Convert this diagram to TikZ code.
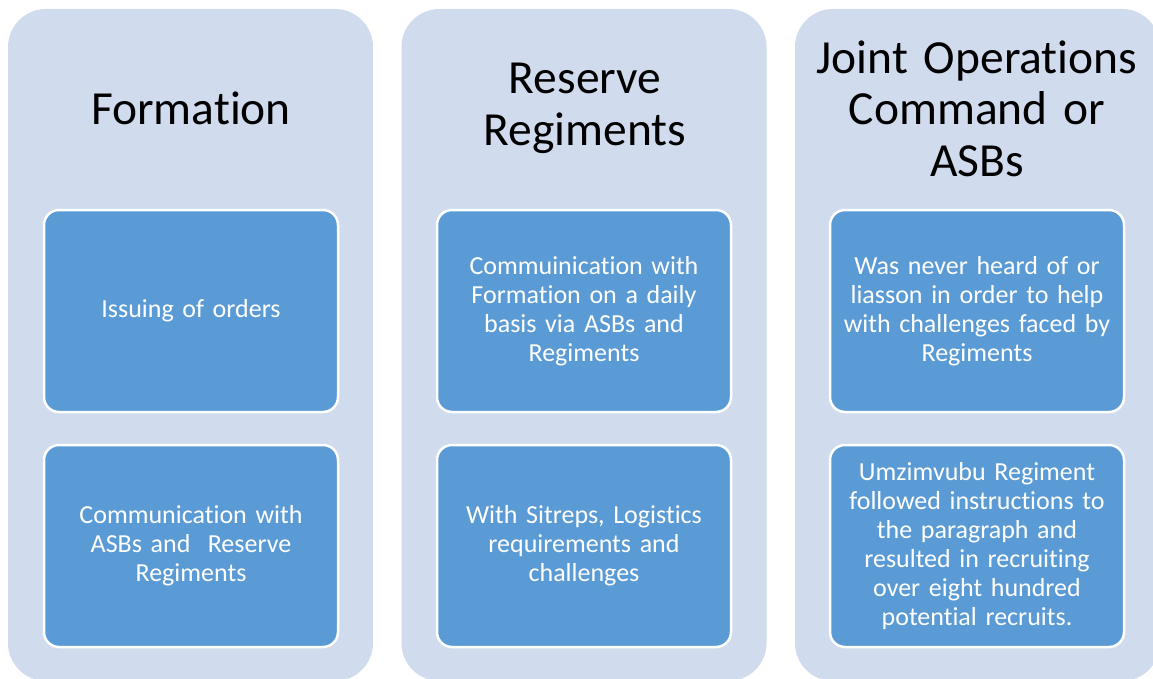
\documentclass[tikz,border=0pt]{standalone}
\usepackage{fontspec}
\setmainfont{Carlito}[Ligatures=CommonOff]
\definecolor{outerfill}{HTML}{D0DCEE}
\definecolor{innerfill}{HTML}{5B9BD5}
\begin{document}
\begin{tikzpicture}[x=1pt,y=-1pt,
  colbox/.style={fill=outerfill,draw=none,rounded corners=38pt,minimum width=365pt,minimum height=672pt,inner sep=0pt},
  itembox/.style={fill=innerfill,draw=white,line width=2.5pt,rounded corners=15pt,minimum width=294pt,minimum height=202pt,inner sep=0pt,text width=288pt,align=center,text=white,font=\fontsize{26}{29}\selectfont},
  title/.style={text=black,align=center,text width=362pt,font=\fontsize{47.5}{51.5}\selectfont,inner sep=0pt}]
\useasboundingbox (0,0) rectangle (1153,679);
\node[colbox] (c1) at (190.5,345) {};
\node[colbox] (c2) at (584,345) {};
\node[colbox] (c3) at (977.5,345) {};
\node[title] (t1) at (191,108.5) {Formation};
\node[title] (t2) at (585,108.5) {Reserve\\Regiments};
\node[title] (t3) at (977,108.5) {Joint Operations\\Command or\\ASBs};
\node[itembox] (b11) at (191,311) {Issuing of orders};
\node[itembox] (b12) at (191,546) {Communication with\\ASBs and\ \ Reserve\\Regiments};
\node[itembox] (b21) at (584,311) {Commuinication with\\Formation on a daily\\basis via ASBs and\\Regiments};
\node[itembox] (b22) at (584,546) {With Sitreps, Logistics\\requirements and\\challenges};
\node[itembox] (b31) at (977,311) {Was never heard of or\\liasson in order to help\\with challenges faced by\\Regiments};
\node[itembox] (b32) at (977,546) {Umzimvubu Regiment\\followed instructions to\\the paragraph and\\resulted in recruiting\\over eight hundred\\potential recruits.};
\end{tikzpicture}
\end{document}
